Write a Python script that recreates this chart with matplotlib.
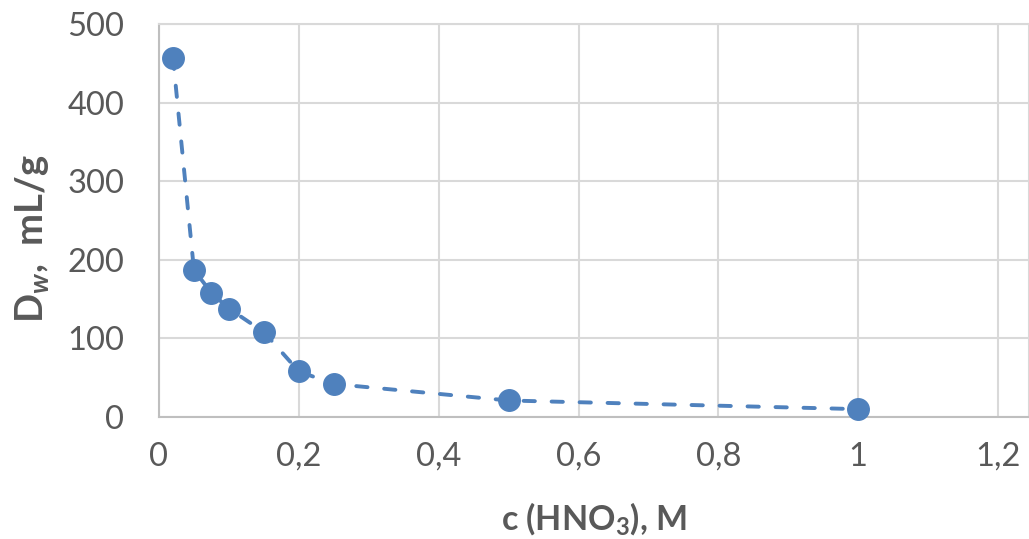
import matplotlib.pyplot as plt
from matplotlib.ticker import FuncFormatter

# ----------------------------
# Data
# ----------------------------
c_hno3 = [0.02, 0.05, 0.075, 0.1, 0.15, 0.2, 0.25, 0.5, 1.0]
d_w = [457, 187, 158, 138, 108, 58, 42, 21, 10]

x_ticks = [0, 0.2, 0.4, 0.6, 0.8, 1.0, 1.2]
y_ticks = [0, 100, 200, 300, 400, 500]

blue = "#4F81BD"
grey_text = "#595959"
grid_col = "#D9D9D9"

plt.rcParams["font.family"] = ["Lato", "DejaVu Sans"]
plt.rcParams["mathtext.fontset"] = "custom"
plt.rcParams["mathtext.rm"] = "Lato:bold"
plt.rcParams["mathtext.it"] = "Lato:italic:bold"
plt.rcParams["mathtext.bf"] = "Lato:bold"

# ----------------------------
# Plot
# ----------------------------
fig = plt.figure(figsize=(10.29, 5.39), dpi=100)
ax = fig.add_axes([159 / 1029, 1 - 417 / 539, 1 - 159 / 1029, (417 - 24) / 539])

line, = ax.plot(
    c_hno3, d_w,
    color=blue, linewidth=2.8, linestyle="--",
    marker="o", markersize=15.5, markerfacecolor=blue, markeredgecolor=blue,
    dash_capstyle="round", clip_on=False, zorder=3
)
line.set_dashes((2.9, 4.3))

ax.set_xlim(0, 1.2 * 870 / 839)
ax.set_ylim(0, 500)
ax.set_xticks(x_ticks)
ax.set_yticks(y_ticks)

comma = FuncFormatter(lambda v, p: f"{v:g}".replace(".", ","))
ax.xaxis.set_major_formatter(comma)

ax.grid(True, color=grid_col, linewidth=1.5)
ax.set_axisbelow(True)
for side in ["left", "bottom", "top", "right"]:
    ax.spines[side].set_color(grid_col)
    ax.spines[side].set_linewidth(1.5)
ax.spines["left"].set_color("#BFBFBF")
ax.spines["bottom"].set_color("#BFBFBF")

ax.tick_params(axis="both", length=0, labelsize=23.5, labelcolor=grey_text)
ax.tick_params(axis="y", pad=25)
ax.tick_params(axis="x", pad=18)

ax.set_xlabel(r"c (HNO$_{3}$), M", fontsize=24.5, fontweight="bold",
              color=grey_text, labelpad=20)
ax.set_ylabel(r"D$_{\mathit{w}}$,  mL/g", fontsize=27.5, fontweight="bold",
              color=grey_text, labelpad=12)
ax.yaxis.label.set_y(0.455)

fig.savefig("out.png", dpi=100)
